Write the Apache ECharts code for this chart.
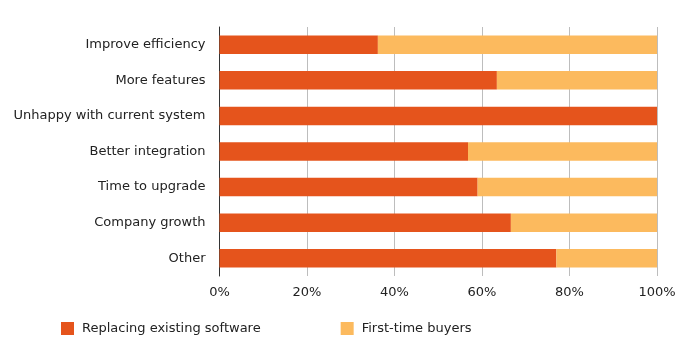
<!DOCTYPE html>
<html><head><meta charset="utf-8">
<script src="https://cdn.jsdelivr.net/npm/echarts@6/dist/echarts.min.js"></script>
<style>html,body{margin:0;padding:0;background:#fff}#c{width:685px;height:360px}</style>
</head><body><div id="c"></div>
<script>
var categories = ["Improve efficiency","More features","Unhappy with current system","Better integration","Time to upgrade","Company growth","Other"];
var replacing = [36.2, 63.4, 100, 56.8, 59.0, 66.6, 77.0];
var firstTime = [63.8, 36.6, 0, 43.2, 41.0, 33.4, 23.0];
var seriesNames = ["Replacing existing software","First-time buyers"];
var ticks = [0,20,40,60,80,100];

var font = "Verdana, 'DejaVu Sans', sans-serif";
var chart = echarts.init(document.getElementById('c'));
chart.setOption({
  animation:false,
  textStyle:{fontFamily:font},
  grid:{left:219.5,right:28,top:27,bottom:84,containLabel:false},
  legend:{
    data:seriesNames, left:61, top:322, padding:0, itemWidth:13, itemHeight:13, itemGap:80,
    icon:'rect', textStyle:{fontFamily:font,fontSize:13,color:'#222',padding:[0,0,0,3]}
  },
  xAxis:{type:'value',min:0,max:100,interval:20,
    axisLine:{show:false},axisTick:{show:false},
    splitLine:{lineStyle:{color:'#bdbdbd',width:1}},
    axisLabel:{formatter:function(v){return v+'%';},fontSize:13,color:'#222',margin:10,fontFamily:font}
  },
  yAxis:{type:'category',data:categories,inverse:true,
    axisLine:{lineStyle:{color:'#333',width:1}},axisTick:{show:false},
    axisLabel:{fontSize:13,color:'#222',margin:14,fontFamily:font}
  },
  series:[
    {name:seriesNames[0],type:'bar',stack:'a',data:replacing,barWidth:'52%',itemStyle:{color:'#E5541C'}},
    {name:seriesNames[1],type:'bar',stack:'a',data:firstTime,barWidth:'52%',itemStyle:{color:'#FCBA5E'}}
  ]
});
</script></body></html>
